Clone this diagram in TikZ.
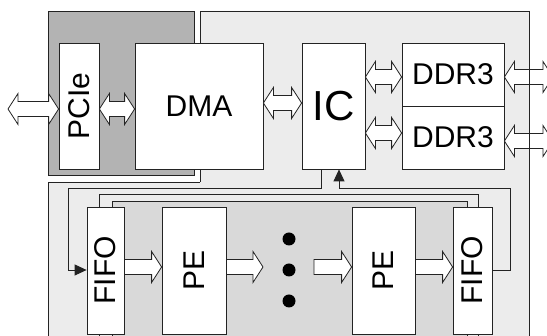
\documentclass[tikz,border=0pt]{standalone}
\usepackage{fontspec}
\setmainfont{Liberation Sans}
\usepackage{graphicx}
\usetikzlibrary{calc,arrows.meta,backgrounds}
\definecolor{darkbg}{RGB}{179,179,179}
\definecolor{lightbg}{RGB}{236,236,236}
\definecolor{midbg}{RGB}{217,217,217}
\definecolor{edgec}{RGB}{35,35,35}
\newcommand\dblarr[2]{%
 \draw[barrow] let \p1=(#1), \p2=(#2) in
 (\x1,\y1) -- ({\x1+10pt},{\y1+15.5pt}) -- ({\x1+10pt},{\y1+7.5pt}) -- ({\x2-10pt},{\y1+7.5pt})
 -- ({\x2-10pt},{\y1+15.5pt}) -- (\x2,\y1) -- ({\x2-10pt},{\y1-15.5pt}) -- ({\x2-10pt},{\y1-7.5pt})
 -- ({\x1+10pt},{\y1-7.5pt}) -- ({\x1+10pt},{\y1-15.5pt}) -- cycle;}
\newcommand\sarr[2]{%
 \draw[barrow] let \p1=(#1), \p2=(#2) in
 (\x1,{\y1+7.5pt}) -- ({\x2-10pt},{\y1+7.5pt}) -- ({\x2-10pt},{\y1+15.5pt}) -- (\x2,\y1)
 -- ({\x2-10pt},{\y1-15.5pt}) -- ({\x2-10pt},{\y1-7.5pt}) -- (\x1,{\y1-7.5pt}) -- cycle;}
\begin{document}
\begin{tikzpicture}[x=1pt,y=-1pt,
  box/.style={draw=edgec, fill=white, line width=0.8pt, inner sep=0pt, font=\fontsize{30}{30}\selectfont},
  wire/.style={draw=edgec, line width=0.8pt},
  barrow/.style={draw=edgec, fill=white, line width=0.8pt, line join=miter},
  dot/.style={circle, fill=black, inner sep=0pt, minimum size=13pt},
  tip/.style={-{Triangle[length=12pt,width=11pt]}}]
\useasboundingbox (0,0) rectangle (547,336);
\clip (0,0) rectangle (547,336);
% boxes
\node[box, minimum width=40pt, minimum height=126pt] (pcie) at (79,106) {\rotatebox{90}{PCIe}};
\node[box, minimum width=128pt, minimum height=126pt] (dma) at (199,106) {DMA};
\node[box, minimum width=63pt, minimum height=126pt, font=\fontsize{42}{42}\selectfont] (ic) at (333.5,106) {IC};
\node[box, minimum width=102pt, minimum height=63pt] (ddrA) at (453,74.5) {DDR3};
\node[box, minimum width=102pt, minimum height=63pt] (ddrB) at (453,137.5) {DDR3};
\node[box, minimum width=37pt, minimum height=127pt] (fifoA) at (105.5,270.5) {\rotatebox{90}{FIFO}};
\node[box, minimum width=64pt, minimum height=127pt] (peA) at (194,270.5) {\rotatebox{90}{PE}};
\node[box, minimum width=63pt, minimum height=127pt] (peB) at (383.5,270.5) {\rotatebox{90}{PE}};
\node[box, minimum width=39pt, minimum height=127pt] (fifoB) at (472.5,270.5) {\rotatebox{90}{FIFO}};
\node[dot] (d1) at (289,239) {};
\node[dot] (d2) at (289,270) {};
\node[dot] (d3) at (289,301) {};
% backgrounds
\begin{pgfonlayer}{background}
\fill[lightbg] (200,11) -- (529,11) -- (529,350) -- (48,350) -- (48,182) -- (200,182) -- cycle;
\draw[wire] (200,182) -- (200,11) -- (529,11) -- (529,350);
\draw[wire] (48,350) -- (48,182) -- (200,182);
\draw[wire, fill=darkbg] (48,11) rectangle (194,175);
\draw[wire, fill=midbg] (112,350) -- (112,201) -- (467,201) -- (467,350);
\draw[wire] (fifoA.south -| 99,0) -- (99,350);
\draw[wire] (fifoB.south -| 478,0) -- (478,350);
\draw[wire] (fifoA.north -| 99,0) |- (478,194) -- (fifoB.north -| 478,0);
\end{pgfonlayer}
% control wires
\draw[wire, tip] (ic.south -| 321,0) |- (68,188) |- (fifoA.west |- 0,270);
\draw[wire, tip] (fifoB.east |- 0,270) -| (510,188) -| (ic.south -| 339,0);
% block arrows
\coordinate (ext) at (8,109);
\coordinate (extA) at (553,77);
\coordinate (extB) at (553,141);
\coordinate (gapL) at (263,267);
\coordinate (gapR) at (314,267);
\dblarr{ext}{pcie.west |- 0,109}
\dblarr{pcie.east |- 0,109}{dma.west |- 0,109}
\dblarr{dma.east |- 0,103}{ic.west |- 0,103}
\dblarr{ic.east |- 0,77}{ddrA.west |- 0,77}
\dblarr{ic.east |- 0,133}{ddrB.west |- 0,133}
\dblarr{ddrA.east |- 0,77}{extA}
\dblarr{ddrB.east |- 0,141}{extB}
\sarr{fifoA.east |- 0,267}{peA.west |- 0,267}
\sarr{peA.east |- 0,267}{gapL}
\sarr{gapR}{peB.west |- 0,267}
\sarr{peB.east |- 0,267}{fifoB.west |- 0,267}
\draw[wire] (529,11) -- (529,350);
\end{tikzpicture}
\end{document}
